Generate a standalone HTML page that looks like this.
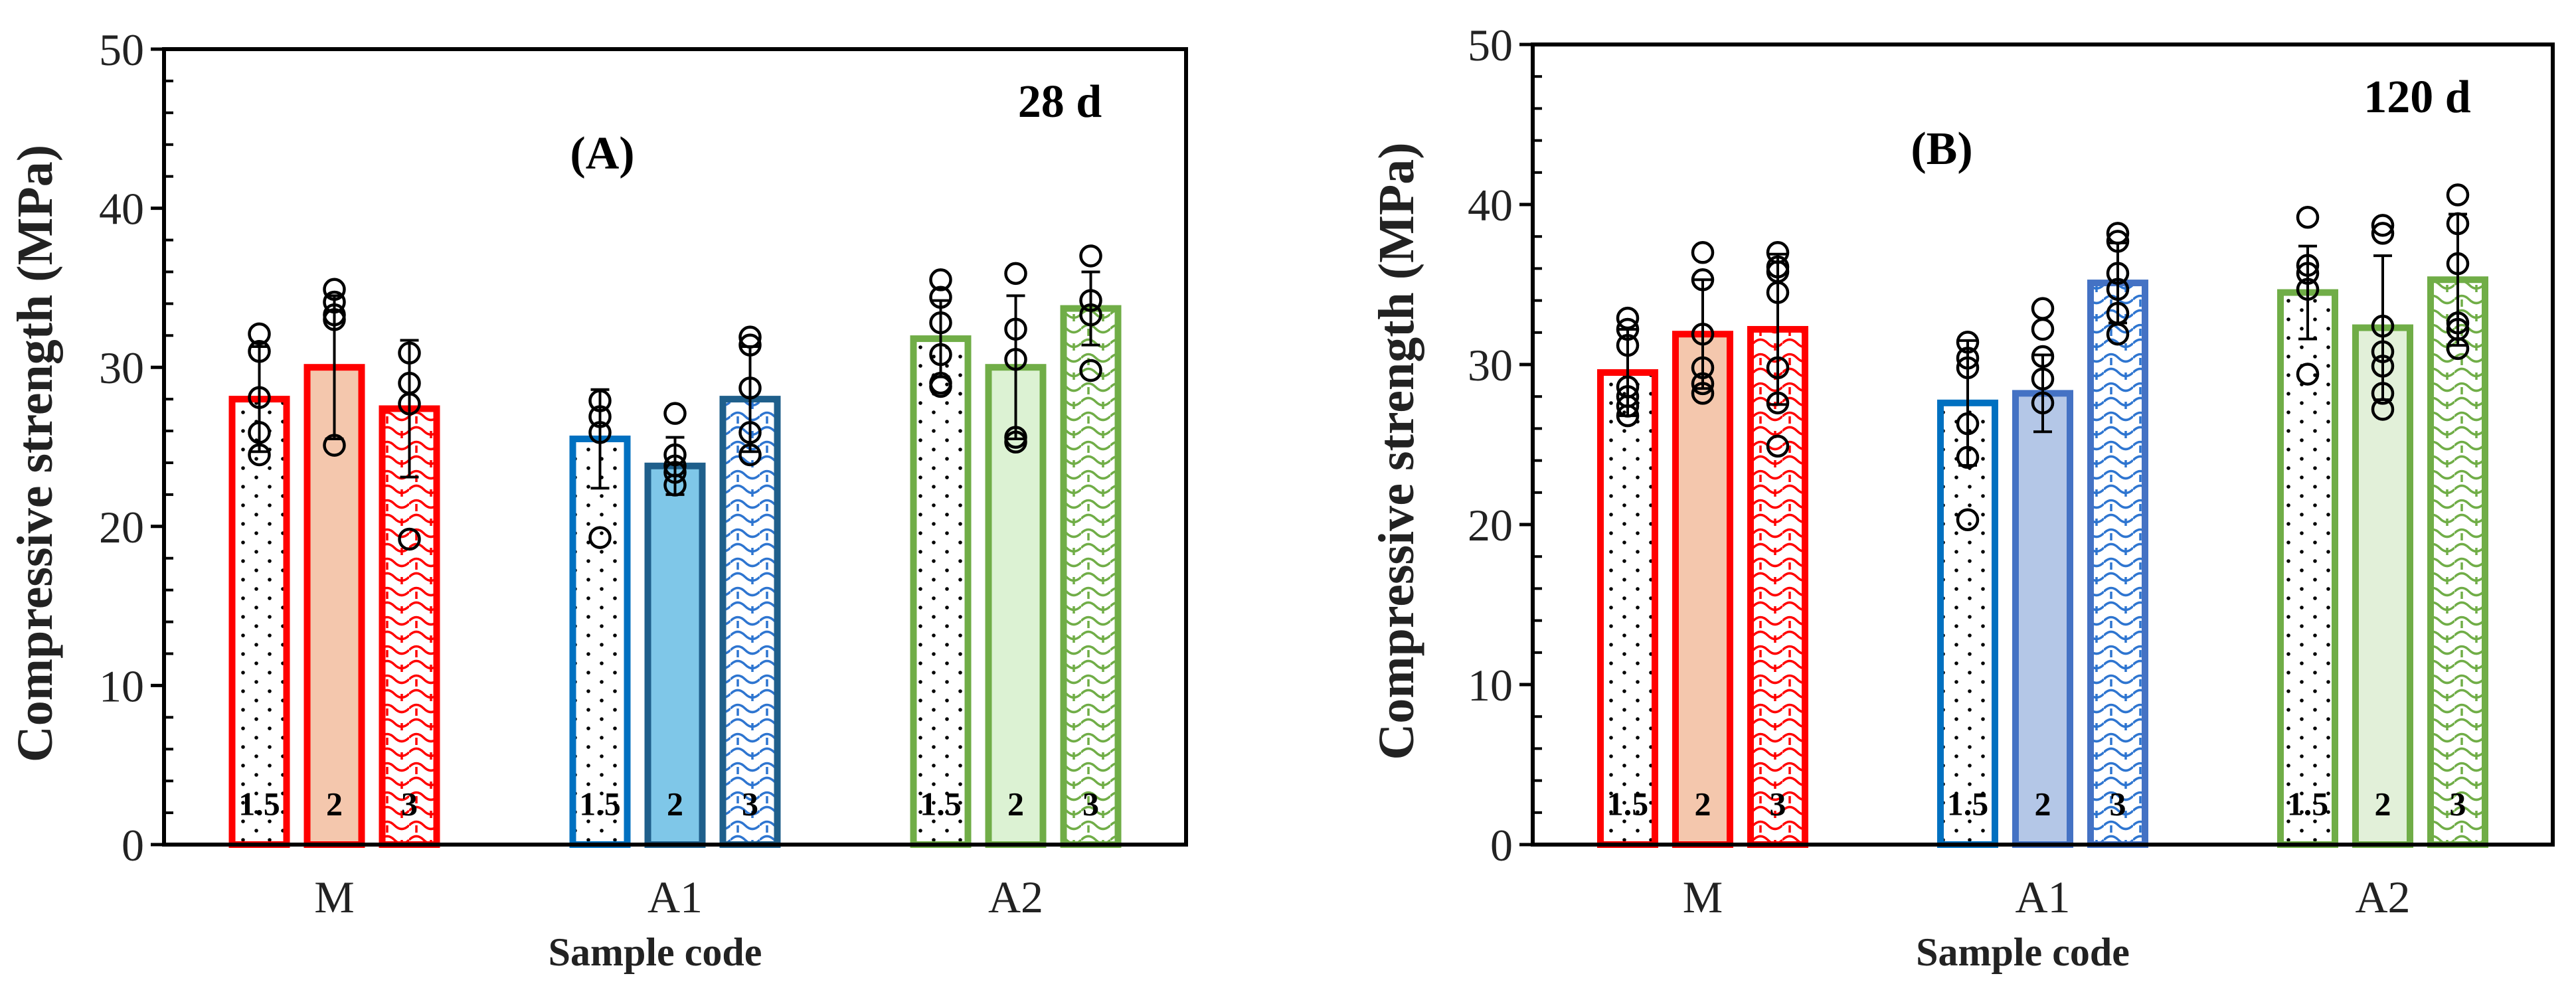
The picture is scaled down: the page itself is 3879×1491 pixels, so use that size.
<!DOCTYPE html>
<html><head><meta charset="utf-8">
<style>
html,body{margin:0;padding:0;background:#fff;}
svg{display:block;font-family:"Liberation Serif",serif;}
</style></head>
<body>
<svg id="chart" width="3879" height="1491" viewBox="0 0 3879 1491" xmlns="http://www.w3.org/2000/svg">
<defs>
  <pattern id="dots" width="40" height="28" patternUnits="userSpaceOnUse">
    <rect width="40" height="28" fill="#fff"/>
    <circle cx="6" cy="5" r="2.8" fill="#000"/>
    <circle cx="26" cy="19" r="2.8" fill="#000"/>
  </pattern>
  <pattern id="wave-red" width="44" height="44" patternUnits="userSpaceOnUse">
    <rect width="44" height="44" fill="#fff"/>
    <path d="M0 11 Q11 0 22 11 T44 11 M0 33 Q11 22 22 33 T44 33 M11 11 V22 M33 33 V44" stroke="#ff0000" stroke-width="3.5" fill="none"/>
  </pattern>
  <pattern id="wave-blue" width="44" height="44" patternUnits="userSpaceOnUse">
    <rect width="44" height="44" fill="#fff"/>
    <path d="M0 11 Q11 0 22 11 T44 11 M0 33 Q11 22 22 33 T44 33 M11 11 V22 M33 33 V44" stroke="#2e75d0" stroke-width="3.5" fill="none"/>
  </pattern>
  <pattern id="wave-green" width="44" height="44" patternUnits="userSpaceOnUse">
    <rect width="44" height="44" fill="#fff"/>
    <path d="M0 11 Q11 0 22 11 T44 11 M0 33 Q11 22 22 33 T44 33 M11 11 V22 M33 33 V44" stroke="#70ad47" stroke-width="3.5" fill="none"/>
  </pattern>
</defs>
</svg>
<script>
const categories = ["M", "A1", "A2"];
const barLabels = ["1.5", "2", "3"];
const yTicks = [0, 10, 20, 30, 40, 50];

const meansA = [[28.0, 30.0, 27.4], [25.5, 23.8, 28.0], [31.8, 30.0, 33.7]];
const errorsA = [[3.3, 4.5, 4.3], [3.1, 1.8, 3.3], [2.4, 4.5, 2.3]];
const pointsA = [
  [[32.1, 31.0, 28.1, 25.9, 24.5], [34.9, 34.1, 33.3, 33.0, 25.1], [30.9, 29.0, 27.7, 19.2]],
  [[27.9, 26.9, 25.9, 19.3], [27.1, 24.5, 23.8, 23.4, 22.6], [31.9, 31.4, 28.7, 25.9, 24.5]],
  [[35.5, 34.4, 32.8, 30.8, 29.0, 28.8], [35.9, 32.4, 30.5, 25.6, 25.3], [37.0, 34.2, 33.3, 29.8]]
];

const meansB = [[29.5, 31.9, 32.2], [27.6, 28.2, 35.1], [34.5, 32.3, 35.3]];
const errorsB = [[2.7, 3.4, 4.7], [3.9, 2.4, 2.5], [2.9, 4.5, 4.1]];
const pointsB = [
  [[32.9, 32.2, 31.2, 28.6, 28.0, 27.4, 26.8], [37.0, 35.3, 31.9, 29.8, 28.8, 28.2], [37.0, 36.1, 35.8, 34.5, 29.8, 27.6, 24.9]],
  [[31.4, 30.4, 29.8, 26.3, 24.2, 20.3], [33.5, 32.2, 30.5, 29.1, 27.6], [38.2, 37.7, 35.7, 34.7, 33.2, 31.9]],
  [[39.2, 36.2, 35.7, 34.7, 29.4], [38.7, 38.2, 32.4, 30.8, 29.9, 28.2, 27.2], [40.6, 38.8, 36.3, 32.6, 32.2, 31.0]]
];

const NS = "http://www.w3.org/2000/svg";
const svg = document.getElementById("chart");
function mk(tag, attrs, parent) {
  const e = document.createElementNS(NS, tag);
  for (const k in attrs) e.setAttribute(k, attrs[k]);
  (parent || svg).appendChild(e);
  return e;
}

function drawPanel(cfg) {
  const g = mk("g", {});
  
  
  const L = cfg.left, R = cfg.right, T = cfg.top, B = cfg.bottom;
  const yS = v => B - (v / 50) * (B - T);
  const bandW = (R - L) / categories.length;
  const xC = i => L + bandW * (i + 0.5);
  const step = 113, bw = 82;

  categories.forEach((cat, i) => {
    for (let j = 0; j < 3; j++) {
      const cx = xC(i) + (j - 1) * step;
      const v = cfg.means[i][j];
      const st = cfg.styles[i][j];
      const r = mk("rect", {x: cx - bw / 2, y: yS(v), width: bw, height: yS(0) - yS(v), fill: st.fill, stroke: st.stroke, "stroke-width": 10}, g);
      
      
      const t = mk("text", {x: cx, y: yS(2.6) + 18, "text-anchor": "middle", "font-size": 50, "font-weight": "bold", fill: "#000"}, g);
      t.textContent = barLabels[j];
      
      
    }
  });
  categories.forEach((cat, i) => {
    for (let j = 0; j < 3; j++) {
      const cx = xC(i) + (j - 1) * step;
      const v = cfg.means[i][j], e = cfg.errors[i][j];
      const eb = mk("g", {stroke: "#000", "stroke-width": 4}, g);
      
      
      mk("line", {x1: cx, x2: cx, y1: yS(v + e), y2: yS(v - e)}, eb);
      mk("line", {x1: cx - 14, x2: cx + 14, y1: yS(v + e), y2: yS(v + e)}, eb);
      mk("line", {x1: cx - 14, x2: cx + 14, y1: yS(v - e), y2: yS(v - e)}, eb);
      cfg.points[i][j].forEach(p => {
        const c = mk("circle", {cx: cx, cy: yS(p), r: 15, fill: "none", stroke: "#000", "stroke-width": 4.5}, g);
        
        
      });
    }
  });
  const fr = mk("rect", {x: L, y: T, width: R - L, height: B - T, fill: "none", stroke: "#000", "stroke-width": 6}, g);
  
  
  for (let v = 0; v <= 50; v += 2) {
    if (v % 10 !== 0) mk("line", {x1: L, x2: L + 14, y1: yS(v), y2: yS(v), stroke: "#000", "stroke-width": 4}, g);
  }
  yTicks.forEach(v => {
    mk("line", {x1: L - 20, x2: L, y1: yS(v), y2: yS(v), stroke: "#000", "stroke-width": 5}, g);
    const t = mk("text", {x: L - 30, y: yS(v) + 24, "text-anchor": "end", "font-size": 68, fill: "#222"}, g);
    t.textContent = v;
    
    
  });
  categories.forEach((cat, i) => {
    const t = mk("text", {x: xC(i), y: B + 102, "text-anchor": "middle", "font-size": 68, fill: "#222"}, g);
    t.textContent = cat;
    
    
  });
  const xt = mk("text", {x: (L + R) / 2 - 30, y: B + 182, "text-anchor": "middle", "font-size": 60, "font-weight": "bold", fill: "#222"}, g);
  xt.textContent = "Sample code";
  
  
  const yt = mk("text", {x: 0, y: 0, "text-anchor": "middle", "font-size": 76, "font-weight": "bold", fill: "#222", transform: `translate(${cfg.yTitleX},${(T + B) / 2 + 10}) rotate(-90)`}, g);
  yt.textContent = "Compressive strength (MPa)";
  
  
  const pl = mk("text", {x: cfg.panelX, y: T + 180, "text-anchor": "middle", "font-size": 70, "font-weight": "bold", fill: "#000"}, g);
  pl.textContent = cfg.panelLabel;
  
  
  const ag = mk("text", {x: cfg.ageX, y: T + 102, "text-anchor": "middle", "font-size": 70, "font-weight": "bold", fill: "#000"}, g);
  ag.textContent = cfg.age;
  
  
}

const stylesA = [
  [{fill: "url(#dots)", stroke: "#ff0000"}, {fill: "#f4c7ad", stroke: "#ff0000"}, {fill: "url(#wave-red)", stroke: "#ff0000"}],
  [{fill: "url(#dots)", stroke: "#0070c0"}, {fill: "#7fc7e8", stroke: "#1f5f8b"}, {fill: "url(#wave-blue)", stroke: "#1f5f8b"}],
  [{fill: "url(#dots)", stroke: "#70ad47"}, {fill: "#dcf2d3", stroke: "#70ad47"}, {fill: "url(#wave-green)", stroke: "#70ad47"}]
];
const stylesB = [
  [{fill: "url(#dots)", stroke: "#ff0000"}, {fill: "#f4c7ad", stroke: "#ff0000"}, {fill: "url(#wave-red)", stroke: "#ff0000"}],
  [{fill: "url(#dots)", stroke: "#0070c0"}, {fill: "#b4c7e7", stroke: "#4472c4"}, {fill: "url(#wave-blue)", stroke: "#4472c4"}],
  [{fill: "url(#dots)", stroke: "#70ad47"}, {fill: "#e2f0d9", stroke: "#70ad47"}, {fill: "url(#wave-green)", stroke: "#70ad47"}]
];

drawPanel({name: "panel-a", left: 247, right: 1786, top: 74, bottom: 1272, means: meansA, errors: errorsA, points: pointsA, styles: stylesA, yTitleX: 78, panelLabel: "(A)", panelX: 907, age: "28 d", ageX: 1596});
drawPanel({name: "panel-b", left: 2308, right: 3844, top: 67, bottom: 1272, means: meansB, errors: errorsB, points: pointsB, styles: stylesB, yTitleX: 2128, panelLabel: "(B)", panelX: 2924, ageX: 3640, age: "120 d"});
</script>
</body></html>
